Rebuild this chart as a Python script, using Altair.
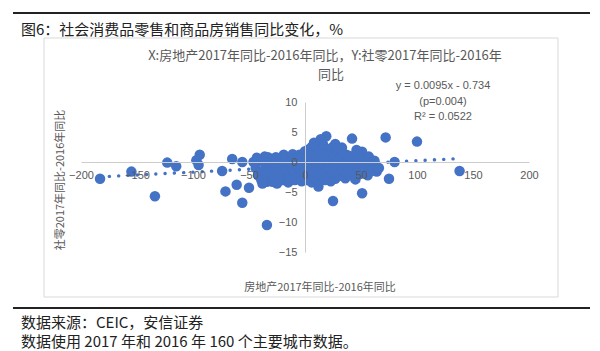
import altair as alt
import pandas as pd

# ---------------- data ----------------
x_vals = [
    -183, -155, -134, -123, -115, -94, -97, -95, -74, -71, -61, -56, -50, -65, -56, -46,
    -34, -33, -34, -25, -19, 19, 14, 42, 72, 80, 75, 51, 25, 12, 64, 51, 58, 6, 21, -1.5,
    37, 100, 138,
    -44, -42, -40, -39, -37, -36, -35, -33, -31, -30, -29, -28, -27, -26, -24, -23, -22,
    -21, -20, -19, -18, -17, -16, -15, -14, -13, -12, -11, -10, -9,
    -8, -7, -6, -5, -4, -3, -2, -1, 0, 0, 1, 1, 2, 3, 3, 4, 5, 5, 6, 7, 7, 8, 9, 9, 10, 10,
    11, 12, 12, 13, 14, 14, 15, 15, 16, 16, 17, 18, 18, 19, 20, 20, 21, 22, 22, 23, 24, 24,
    25, 26, 26, 27, 28, 28, 29, 30,
    31, 32, 33, 34, 35, 36, 37, 38, 39, 40, 41, 42, 43, 44, 45, 46, 47, 48, 49, 50, 52, 53,
    55, 56, 57, 59, 61, 62,
    -43, -38, 8, 27, 33, 46, 66,
]
y_vals = [
    -2.8, -1.6, -5.7, -0.1, -0.7, 1.2, 0.3, -0.5, -1.5, -4.9, -3.8, -6.8, -4.3, 0.5, 0.0, 0.0,
    -10.5, 0.8, -3.3, -3.6, 1.2, 4.3, 3.8, 3.9, 4.1, 0.0, -2.8, -5.2, -6.5, -4.1, -1.6, 1.7, -0.2, 2.5, 2.0, -2.7,
    1.2, 3.4, -1.5,
    -1.0, -2.2, 0.2, -3.0, -1.5, 0.9, -0.6, -2.4, -1.1, 0.3, -3.3, -2.0, -0.4, 0.8, -1.6, -2.8, 0.4,
    -0.9, -3.0, -2.1, -0.2, 0.7, -1.4, -3.4, -2.6, 0.1, -0.8, 1.3, -1.9, -3.0,
    0.6, -0.4, -2.4, 1.2, -1.2, -3.2, 0.2, -0.8, 1.8, -1.8, -3.0, 0.6, -0.2, 2.1, -1.4, -2.5, 0.9, -0.6, -3.4, 1.4, -1.1, -2.0, 0.3, 2.6, -0.5, -2.9,
    1.0, -1.5, 0.0, -3.2, 1.7, -0.9, -2.3, 0.5, 3.0, -0.3, -1.8, 1.2, -3.0, -0.6, 0.4, -2.4, 1.5, -1.2, -0.1, -3.2, 0.8, 2.4,
    -1.9, -0.5, 1.2, -2.8, 0.1, -1.4, 1.8, -0.8,
    -2.3, 0.6, -1.2, 1.4, -0.3, -2.7, -1.7, 0.2, -0.9, 1.0, -2.2, -0.4, 0.7, -1.5, -2.9, 0.3, -0.8, 1.1, -2.0, -0.2, 0.6, -1.3,
    0.0, -2.2, 0.9, -0.7, -1.4, 0.2,
    0.7, -3.6, 3.2, 3.0, 2.4, 2.0, -1.0,
]
x_ticks = [-200, -150, -100, -50, 0, 50, 100, 150, 200]
y_ticks = [-15, -10, -5, 0, 5, 10]
slope = 0.0095
intercept = -0.734
p_value = 0.004
r_squared = 0.0522

fig_title = "图6：社会消费品零售和商品房销售同比变化，%"
chart_title_1 = "X:房地产2017年同比-2016年同比，Y:社零2017年同比-2016年"
chart_title_2 = "同比"
x_title = "房地产2017年同比-2016年同比"
y_title = "社零2017年同比-2016年同比"
source_1 = "数据来源：CEIC，安信证券"
source_2 = "数据使用 2017 年和 2016 年 160 个主要城市数据。"

# ---------------- layout ----------------
W, H = 448, 150
L, T = 81, 102
XD = [-200, 200]
YD = [-15, 10]
CJK = "Noto Sans CJK SC"
LAT = "Liberation Sans"
GRAY = "#595959"
BLUE = "#4472C4"

pts = pd.DataFrame({"x": x_vals, "y": y_vals})
tx = [min(x_vals), max(x_vals)]
trend = pd.DataFrame({"x": tx, "y": [slope * v + intercept for v in tx]})

x_zero_px = W * (0 - XD[0]) / (XD[1] - XD[0])
y_zero_px = H * (YD[1] - 0) / (YD[1] - YD[0])

xs = alt.Scale(domain=XD, nice=False, zero=False)
ys = alt.Scale(domain=YD, nice=False, zero=False)

common_axis = dict(
    ticks=False, grid=False, domainColor="#cccccc", domainWidth=1,
    labelColor=GRAY, labelFont=LAT, labelFontSize=11, labelFlush=False,
    labelOverlap=False, labelBound=False, title=None, zindex=1,
)
x_axis = alt.Axis(values=x_ticks, orient="bottom", offset=-(H - y_zero_px),
                  labelPadding=7, **common_axis)
y_axis = alt.Axis(values=y_ticks, orient="left", offset=-x_zero_px,
                  labelPadding=8, **common_axis)

points = alt.Chart(pts).mark_circle(size=110, opacity=1, color=BLUE).encode(
    x=alt.X("x:Q", scale=xs, axis=x_axis),
    y=alt.Y("y:Q", scale=ys, axis=y_axis),
)

trend_line = alt.Chart(trend).mark_line(
    color=BLUE, strokeWidth=3.4, strokeDash=[0.1, 9.2], strokeCap="round"
).encode(x=alt.X("x:Q", scale=xs, axis=x_axis), y=alt.Y("y:Q", scale=ys, axis=y_axis))

one = pd.DataFrame({"a": [0]})


def txt(s, px, py, size, color=GRAY, align="center", angle=0, font=CJK):
    return alt.Chart(pd.DataFrame({"t": [s]})).mark_text(
        align=align, baseline="middle", fontSize=size, color=color, font=font, angle=angle
    ).encode(x=alt.value(px - L), y=alt.value(py - T), text="t:N")


def hline(px1, px2, py, color, width):
    return alt.Chart(one).mark_rule(color=color, strokeWidth=width).encode(
        x=alt.value(px1 - L), x2=alt.value(px2 - L), y=alt.value(py - T)
    )


frame = alt.Chart(one).mark_rect(fillOpacity=0, stroke="#d9d9d9", strokeWidth=1).encode(
    x=alt.value(44 - L), x2=alt.value(558 - L), y=alt.value(38 - T), y2=alt.value(297 - T)
)

eq1 = f"y = {slope}x - {abs(intercept)}"
eq2 = f"(p={p_value})"
eq3 = f"R² = {r_squared}"

layers = [
    frame,
    points,
    trend_line,
    hline(13, 590, 13, "#222222", 2),
    hline(13, 590, 308, "#222222", 2),
    txt(fig_title, 21, 30, 15, color="#222222", align="left"),
    txt(chart_title_1, 325, 56, 13),
    txt(chart_title_2, 331, 75, 13),
    txt(eq1, 443, 86, 11, font=LAT),
    txt(eq2, 443, 102, 11, font=LAT),
    txt(eq3, 443, 117, 11, font=LAT),
    txt(x_title, 320, 288, 11),
    txt(y_title, 61, 180, 11, angle=270),
    txt(source_1, 21, 323, 15, color="#222222", align="left"),
    txt(source_2, 21, 342, 15, color="#222222", align="left"),
]

chart = alt.layer(*layers).properties(
    width=W, height=H,
    padding={"left": L, "top": T, "right": 600 - L - W, "bottom": 351 - T - H},
    autosize=alt.AutoSizeParams(type="none"),
    background="white",
).configure_view(stroke=None)

chart.save("out.html", embed_options={"renderer": "svg", "actions": False})
